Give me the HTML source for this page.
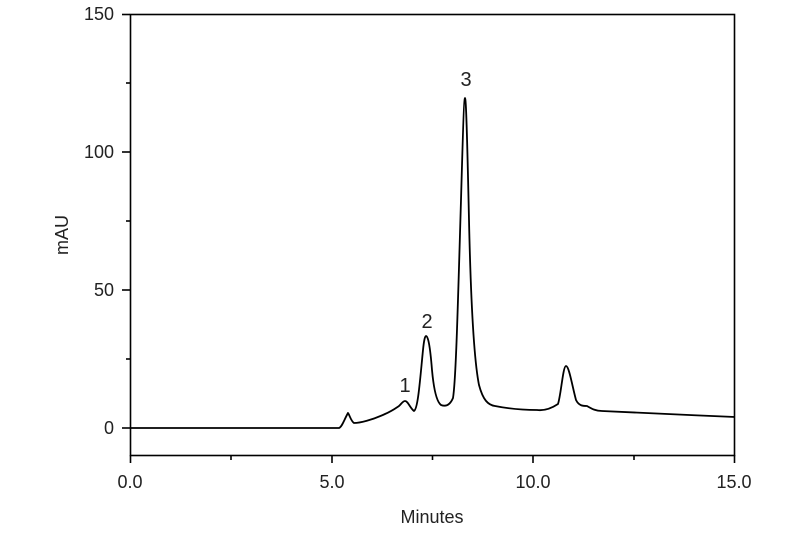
<!DOCTYPE html>
<html><head><style>body{margin:0;background:#fff}</style></head><body>
<svg width="800" height="530" xmlns="http://www.w3.org/2000/svg" font-family="Liberation Sans, sans-serif">
<rect x="130.5" y="14.5" width="604" height="441" fill="none" stroke="#000" stroke-width="1.6"/>
<g stroke="#000" stroke-width="1.6">
<line x1="130.5" y1="455" x2="130.5" y2="463"/><line x1="231" y1="455" x2="231" y2="460"/>
<line x1="332" y1="455" x2="332" y2="463"/><line x1="432.5" y1="455" x2="432.5" y2="460"/>
<line x1="533" y1="455" x2="533" y2="463"/><line x1="634" y1="455" x2="634" y2="460"/>
<line x1="734.5" y1="455" x2="734.5" y2="463"/>
<line x1="122" y1="14.5" x2="130" y2="14.5"/><line x1="126" y1="83" x2="130" y2="83"/>
<line x1="122" y1="152" x2="130" y2="152"/><line x1="126" y1="221" x2="130" y2="221"/>
<line x1="122" y1="290" x2="130" y2="290"/><line x1="126" y1="359" x2="130" y2="359"/>
<line x1="122" y1="428" x2="130" y2="428"/>
</g>
<g font-size="18" fill="#222" text-anchor="middle">
<text x="130" y="488">0.0</text><text x="332" y="488">5.0</text><text x="533" y="488">10.0</text><text x="734" y="488">15.0</text>
</g>
<g font-size="18" fill="#222" text-anchor="end">
<text x="114" y="20">150</text><text x="114" y="158">100</text><text x="114" y="296">50</text><text x="114" y="434">0</text>
</g>
<text x="432" y="523" font-size="18" fill="#222" text-anchor="middle">Minutes</text>
<text transform="translate(68,235) rotate(-90)" font-size="18" fill="#222" text-anchor="middle">mAU</text>
<g font-size="20" fill="#222" text-anchor="middle">
<text x="405" y="392">1</text><text x="427" y="328">2</text><text x="466" y="86">3</text>
</g>
<path fill="none" stroke="#000" stroke-width="1.8" stroke-linejoin="round" d="M130,428 L339,428 C342,427 344,420 348,413 C350,416 351,421 354,423 C360,423 372,420 385,414 C392,411 396,408 399,406 C402,403 403,401 405,401 C408,401 410,408 414,411 C418,409 420,380 423,350 C424,340 425,336 426,336 C428,336 430,345 432,370 C434,392 437,402 441,405 C446,407 450,405 453,398 C456,380 458,300 461,200 C463,130 464,98 465,98 C466,98 467,130 469,220 C471,310 474,360 479,385 C483,400 488,405 495,406 C505,408 520,410 537,410 C545,411 552,408 558,404 C561,395 563,366 566,366 C569,366 572,385 576,400 C579,406 583,406 587,406 C592,409 596,411 602,411 C640,413 690,415 735,417"/>
</svg>
</body></html>
